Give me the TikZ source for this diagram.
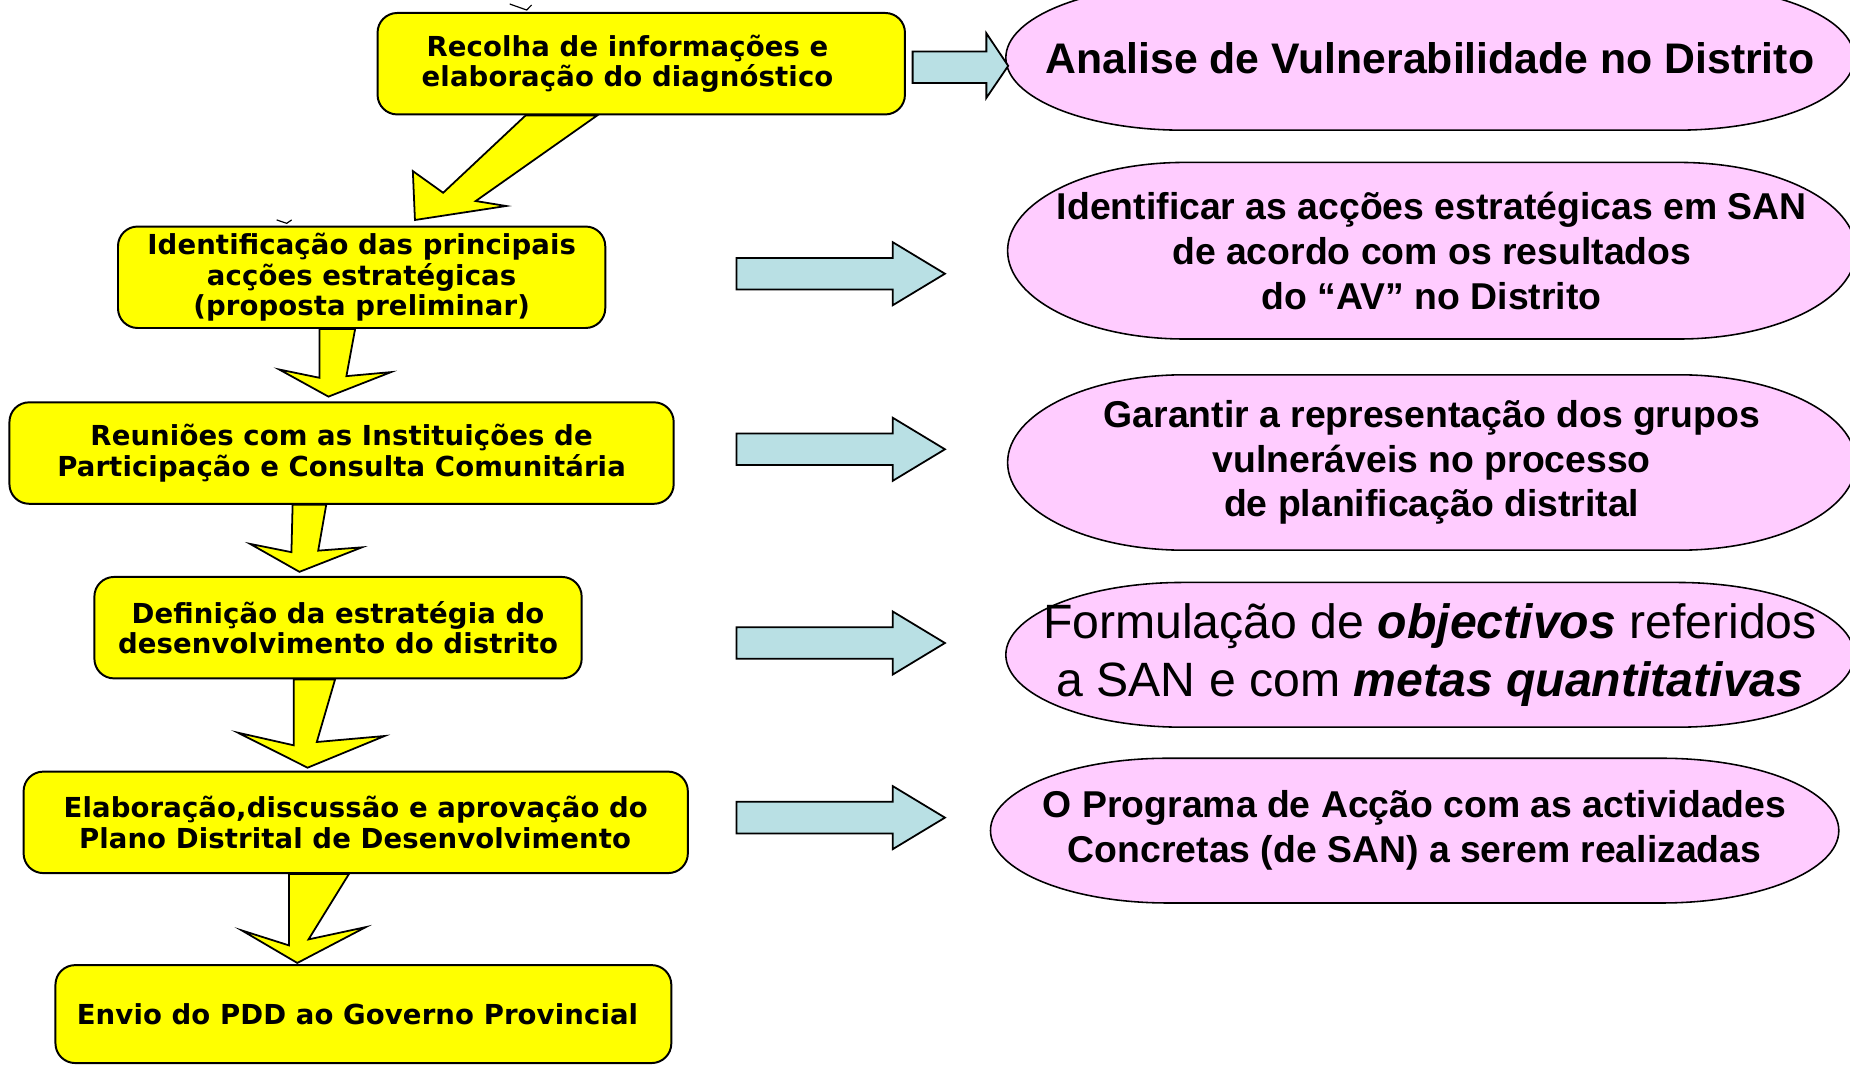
\documentclass[tikz,border=0pt]{standalone}
\usepackage{fontspec}
\usetikzlibrary{calc,backgrounds}
\newfontfamily\boxfont[LetterSpace=0.4]{DejaVu Sans}
\newfontfamily\sanfont{Liberation Sans}
\definecolor{boxyellow}{RGB}{255,255,0}
\definecolor{sanpink}{RGB}{255,204,255}
\definecolor{arrowcyan}{RGB}{185,224,228}

\tikzset{
  stepbox/.style={draw=black, line width=1pt, fill=boxyellow, rounded corners=10pt,
    align=center, inner sep=0pt, minimum height=51.6pt,
    font=\boxfont\bfseries\fontsize{14}{15.6}\selectfont},
  sanbox/.style={align=center, inner sep=0pt, minimum width=431pt,
    font=\sanfont\bfseries\fontsize{19}{22.8}\selectfont},
  sanshape/.style={draw=black, line width=0.8pt, fill=sanpink},
  downarrow/.style={draw=black, line width=0.9pt, fill=boxyellow},
  sidearrow/.style={draw=black, line width=0.9pt, fill=arrowcyan},
}

\begin{document}
\begin{tikzpicture}[x=0.6pt,y=-0.6pt]
  \useasboundingbox (0,0) rectangle (1568,902);

  % steps of the district plan
  \node[stepbox, minimum width=268.2pt] (rec) at (543.5,54) {Recolha de informações e\hspace*{14pt}\\elaboração do diagnóstico\hspace*{14pt}};
  \node[stepbox, minimum width=247.8pt] (ide) at (306.5,235) {Identificação das principais\\acções estratégicas\\(proposta preliminar)};
  \node[stepbox, minimum width=337.8pt] (reu) at (289.5,384) {Reuniões com as Instituições de\\Participação e Consulta Comunitária};
  \node[stepbox, minimum width=247.8pt] (def) at (286.5,532) {Definição da estratégia do\\desenvolvimento do distrito};
  \node[stepbox, minimum width=337.8pt, align=left] (ela) at (301.5,697) {Elaboração,discussão e aprovação do\\\hspace*{7.8pt}Plano Distrital de Desenvolvimento};
  \node[stepbox, minimum width=313.2pt, minimum height=49.8pt] (env) at (308,859.5) {Envio do PDD ao Governo Provincial\hspace*{6pt}};

  % SAN results
  \node[sanbox, minimum height=73.2pt, font=\sanfont\bfseries\fontsize{21.75}{26}\selectfont] (av) at (1212,49) {Analise de Vulnerabilidade no Distrito};
  \node[sanbox, minimum height=89.4pt] (acc) at (1213.5,212.5) {Identificar as acções estratégicas em SAN\\de acordo com os resultados\\do “AV” no Distrito};
  \node[sanbox, minimum height=88.8pt] (rep) at (1213.5,392) {Garantir a representação dos grupos\\vulneráveis no processo\\de planificação distrital};
  \node[sanbox, minimum height=73.2pt, font=\sanfont\fontsize{24.5}{29.4}\selectfont] (obj) at (1212,555) {Formulação de \textbf{\textit{objectivos}} referidos\\a SAN e com \textbf{\textit{metas quantitativas}}};
  \node[sanbox, minimum height=73.2pt] (prog) at (1199,704) {O Programa de Acção com as actividades\\Concretas (de SAN) a serem realizadas};

  \begin{scope}[on background layer]
    \foreach \s in {av,acc,rep,obj,prog}
      \path[sanshape] let \p1=(\s.north west), \p2=(\s.south east), \n1={(\y1-\y2)/2} in
        (\x1+90pt,\y1) -- (\x2-90pt,\y1)
        arc[start angle=90, end angle=-90, x radius=90pt, y radius=\n1]
        -- (\x1+90pt,\y2)
        arc[start angle=-90, end angle=-270, x radius=90pt, y radius=\n1] -- cycle;

    % yellow arrows between the steps
    \draw[downarrow] ($(rec.south)+(-98,0)$) -- (375.6,163.4) -- (349.9,145) -- ($(ide.north)+(45.2,-4.7)$)
      -- (429,174.6) -- (403.2,170.4) -- ($(rec.south)+(-37.3,0)$) -- cycle;
    \draw[downarrow] ($(ide.south)+(-35.7,0)$) -- (270.8,320.2) -- (236.7,313.2) -- ($(reu.north)+(-11.1,-4)$)
      -- (331.4,315.4) -- (293.6,318.8) -- ($(ide.south)+(-5.5,0)$) -- cycle;
    \draw[downarrow] ($(reu.south)+(-41.5,0)$) -- (247,468) -- (212,461) -- ($(def.north)+(-32.7,-3.5)$)
      -- (306.8,463.9) -- (269.7,466.7) -- ($(reu.south)+(-13,0)$) -- cycle;
    \draw[downarrow] ($(def.south)+(-37.5,0)$) -- (249,631.7) -- (201.6,621) -- ($(ela.north)+(-40.8,-2.5)$)
      -- (326,623.8) -- (268.5,628.9) -- ($(def.south)+(-2.5,0)$) -- cycle;
    \draw[downarrow] ($(ela.south)+(-56.5,0)$) -- (245,801.3) -- (205,788.6) -- ($(env.north)+(-56,-1)$)
      -- (310,785.8) -- (261.5,796.2) -- ($(ela.south)+(-5.8,0)$) -- cycle;
  \end{scope}

  % arrows to the right
  \draw[sidearrow] (773.5,43.7) -- (836,43.7) -- (836,28.2) -- ($(av.west)+(2,6.8)$) -- (836,83) -- (836,70.4) -- (773.5,70.4) -- cycle;
  \foreach \yy in {232,380.8,545,693}
    \draw[sidearrow] (624.3,\yy-13.4) -- (756.7,\yy-13.4) -- (756.7,\yy-26.7) -- (800.9,\yy)
      -- (756.7,\yy+26.7) -- (756.7,\yy+13.4) -- (624.3,\yy+13.4) -- cycle;

  % small marks above the boxes
  \draw[line width=0.6pt] (432,3.4) -- (446.4,8.5) -- (450.6,4.2);
  \draw[line width=0.6pt] (234.5,186.4) -- (243,189.3) -- (247.2,186.4);
\end{tikzpicture}
\end{document}
